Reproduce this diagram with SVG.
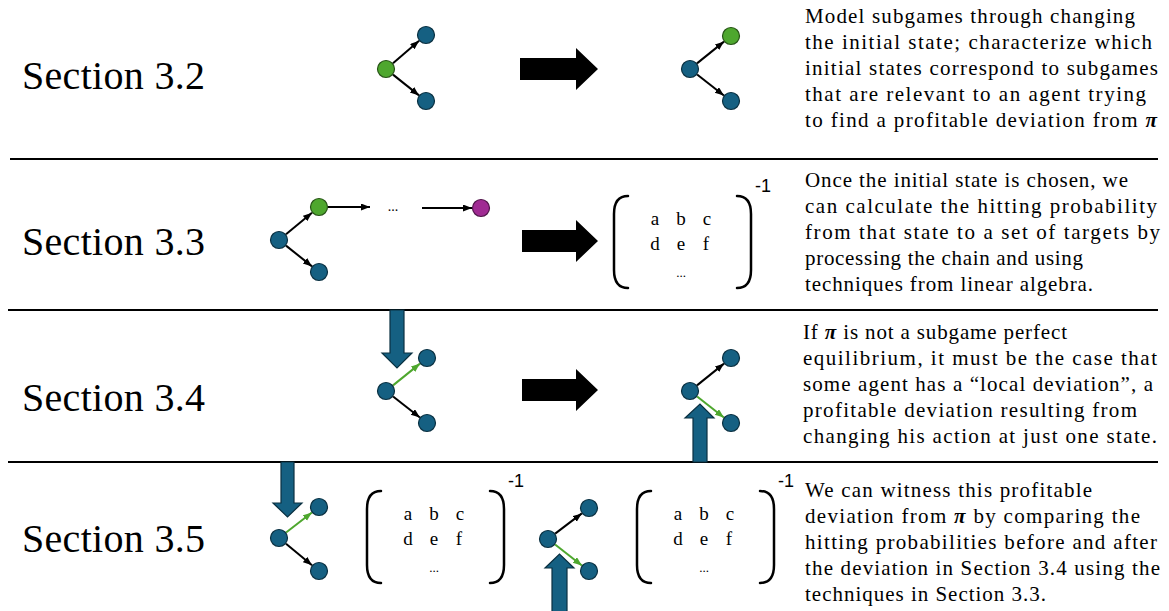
<svg xmlns="http://www.w3.org/2000/svg" width="1169" height="611" viewBox="0 0 1169 611">
<style>
.sec{font-family:"Liberation Serif",serif;font-size:40px;fill:#000}
.desc{font-family:"Liberation Serif",serif;font-size:21px;fill:#000}
.pi{font-style:italic;font-weight:bold}
.mx{font-family:"Liberation Serif",serif;font-size:19px;fill:#000;text-anchor:middle}
.dots{font-family:"Liberation Serif",serif;font-size:13px;fill:#000;text-anchor:middle}
.inv{font-family:"Liberation Sans",Arial,sans-serif;font-size:18px;fill:#000}
.paren{fill:none;stroke:#000;stroke-width:2.5;stroke-linecap:round}
.rule{stroke:#000;stroke-width:2}
.nb{fill:#156082;stroke:#0a3041;stroke-width:1.2}
.ng{fill:#4ea72e;stroke:#275317;stroke-width:1.2}
.nm{fill:#a02b93;stroke:#501549;stroke-width:1.2}
.ek{stroke:#000;stroke-width:2;fill:none;marker-end:url(#ahk)}
.eg{stroke:#4ea72e;stroke-width:2;fill:none;marker-end:url(#ahg)}
.big{fill:#000}
.blue{fill:#156082;stroke:#0a3041;stroke-width:1.2}
</style>
<defs>
<marker id="ahk" markerUnits="userSpaceOnUse" markerWidth="10" markerHeight="8" refX="9" refY="3.5" orient="auto"><path d="M0,0 L9,3.5 L0,7 z" fill="#000"/></marker>
<marker id="ahg" markerUnits="userSpaceOnUse" markerWidth="10" markerHeight="8" refX="9" refY="3.5" orient="auto"><path d="M0,0 L9,3.5 L0,7 z" fill="#4ea72e"/></marker>
<g id="matrix">
<path class="paren" d="M14,1 Q0,1 0,19 L0,75 Q0,93 14,93"/>
<path class="paren" d="M123,1 Q137,1 137,19 L137,75 Q137,93 123,93"/>
<text class="mx" x="41" y="30">a</text><text class="mx" x="67" y="30">b</text><text class="mx" x="93" y="30">c</text>
<text class="mx" x="41" y="55">d</text><text class="mx" x="67" y="55">e</text><text class="mx" x="92" y="55">f</text>
<text class="dots" x="67" y="82">...</text>
<text class="inv" x="141" y="-3">-1</text>
</g>
</defs>
<rect width="1169" height="611" fill="#fff"/>

<g id="rules">
<line class="rule" x1="10" y1="159" x2="1158" y2="159"/>
<line class="rule" x1="8" y1="310" x2="1158" y2="310"/>
<line class="rule" x1="8" y1="462" x2="1158" y2="462"/>
</g>

<g id="labels">
<text class="sec" x="22" y="89" textLength="183">Section 3.2</text>
<text class="sec" x="22" y="255" textLength="183">Section 3.3</text>
<text class="sec" x="22" y="411" textLength="183">Section 3.4</text>
<text class="sec" x="22" y="552" textLength="183">Section 3.5</text>
</g>

<g id="text-3-2">
<text class="desc" x="805" y="23" textLength="330">Model subgames through changing</text>
<text class="desc" x="805" y="49" textLength="347">the initial state; characterize which</text>
<text class="desc" x="805" y="75" textLength="353">initial states correspond to subgames</text>
<text class="desc" x="805" y="101" textLength="341">that are relevant to an agent trying</text>
<text class="desc" x="805" y="127" textLength="352">to find a profitable deviation from <tspan class="pi">π</tspan></text>
</g>
<g id="text-3-3">
<text class="desc" x="805" y="187" textLength="323">Once the initial state is chosen, we</text>
<text class="desc" x="805" y="213" textLength="352">can calculate the hitting probability</text>
<text class="desc" x="805" y="239" textLength="355">from that state to a set of targets by</text>
<text class="desc" x="805" y="265" textLength="278">processing the chain and using</text>
<text class="desc" x="805" y="291" textLength="288">techniques from linear algebra.</text>
</g>
<g id="text-3-4">
<text class="desc" x="803" y="339" textLength="264">If <tspan class="pi">π</tspan> is not a subgame perfect</text>
<text class="desc" x="803" y="365" textLength="354">equilibrium, it must be the case that</text>
<text class="desc" x="803" y="391" textLength="350">some agent has a “local deviation”, a</text>
<text class="desc" x="803" y="417" textLength="334">profitable deviation resulting from</text>
<text class="desc" x="803" y="443" textLength="354">changing his action at just one state.</text>
</g>
<g id="text-3-5">
<text class="desc" x="805" y="497" textLength="287">We can witness this profitable</text>
<text class="desc" x="805" y="523" textLength="335">deviation from <tspan class="pi">π</tspan> by comparing the</text>
<text class="desc" x="805" y="549" textLength="352">hitting probabilities before and after</text>
<text class="desc" x="805" y="575" textLength="355">the deviation in Section 3.4 using the</text>
<text class="desc" x="805" y="601" textLength="241">techniques in Section 3.3.</text>
</g>

<g id="big-arrows">
<polygon class="big" points="520,58 576,58 576,48 598,69 576,90 576,80 520,80"/>
<polygon class="big" points="522,230 576,230 576,220 598,241 576,262 576,252 522,252"/>
<polygon class="big" points="522,379 576,379 576,369 598,390 576,411 576,401 522,401"/>
<polygon class="blue" points="390,310 404,310 404,353 412,353 397,368 382,353 390,353"/>
<polygon class="blue" points="693,462 707,462 707,418 714,418 700,404 685,418 693,418"/>
<polygon class="blue" points="281,462 294,462 294,503 302,503 287.5,517 273,503 281,503"/>
<polygon class="blue" points="552,612 567,612 567,568 574,568 559.5,554 545,568 552,568"/>
</g>

<g id="connectors">
<line class="ek" x1="393" y1="63.2" x2="419.1" y2="40.8"/>
<line class="ek" x1="393" y1="74.6" x2="419" y2="95.4"/>
<line class="ek" x1="697" y1="63.4" x2="724" y2="41.6"/>
<line class="ek" x1="697.1" y1="74.5" x2="723.9" y2="95.5"/>
<line class="ek" x1="286" y1="234.3" x2="312" y2="212.7"/>
<line class="ek" x1="286" y1="245.6" x2="312" y2="266.4"/>
<line class="ek" x1="328" y1="207" x2="370" y2="207"/>
<line class="ek" x1="422" y1="208" x2="472" y2="208"/>
<line class="eg" x1="393" y1="385.4" x2="420" y2="363.6"/>
<line class="ek" x1="393.1" y1="396.5" x2="419.9" y2="417.5"/>
<line class="ek" x1="697" y1="385.4" x2="724" y2="363.6"/>
<line class="eg" x1="697.1" y1="396.5" x2="723.9" y2="417.5"/>
<line class="eg" x1="286.1" y1="532.5" x2="311.9" y2="512.5"/>
<line class="ek" x1="286" y1="543.7" x2="312" y2="565.3"/>
<line class="ek" x1="555.2" y1="533.6" x2="581.8" y2="513.4"/>
<line class="eg" x1="555.1" y1="544.5" x2="581.9" y2="565.5"/>
</g>
<text class="dots" x="393" y="211" style="font-size:14px">...</text>

<g id="nodes-3-2-left">
<circle class="ng" cx="386" cy="69" r="8.5"/>
<circle class="nb" cx="426" cy="35" r="8.5"/>
<circle class="nb" cx="426" cy="101" r="8.5"/>
</g>
<g id="nodes-3-2-right">
<circle class="nb" cx="690" cy="69" r="8.5"/>
<circle class="ng" cx="731" cy="36" r="8.5"/>
<circle class="nb" cx="731" cy="101" r="8.5"/>
</g>
<g id="nodes-3-3">
<circle class="nb" cx="279" cy="240" r="8.5"/>
<circle class="ng" cx="319" cy="207" r="8.5"/>
<circle class="nb" cx="319" cy="272" r="8.5"/>
<circle class="nm" cx="481" cy="208" r="8.5"/>
</g>
<g id="nodes-3-4-left">
<circle class="nb" cx="386" cy="391" r="8.5"/>
<circle class="nb" cx="427" cy="358" r="8.5"/>
<circle class="nb" cx="427" cy="423" r="8.5"/>
</g>
<g id="nodes-3-4-right">
<circle class="nb" cx="690" cy="391" r="8.5"/>
<circle class="nb" cx="731" cy="358" r="8.5"/>
<circle class="nb" cx="731" cy="423" r="8.5"/>
</g>
<g id="nodes-3-5-left">
<circle class="nb" cx="279" cy="538" r="8.5"/>
<circle class="nb" cx="319" cy="507" r="8.5"/>
<circle class="nb" cx="319" cy="571" r="8.5"/>
</g>
<g id="nodes-3-5-mid">
<circle class="nb" cx="548" cy="539" r="8.5"/>
<circle class="nb" cx="589" cy="508" r="8.5"/>
<circle class="nb" cx="589" cy="571" r="8.5"/>
</g>

<g id="matrix-3-3"><use href="#matrix" x="614" y="195"/></g>
<g id="matrix-3-5-a"><use href="#matrix" x="367" y="490"/></g>
<g id="matrix-3-5-b"><use href="#matrix" x="637" y="490"/></g>
</svg>
